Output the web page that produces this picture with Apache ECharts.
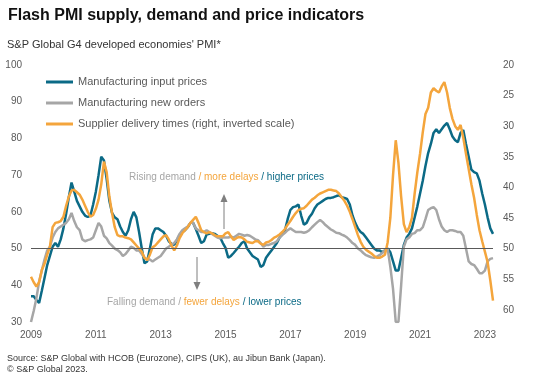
<!DOCTYPE html>
<html>
<head>
<meta charset="utf-8">
<script src="https://cdn.jsdelivr.net/npm/echarts@6/dist/echarts.min.js"></script>
<style>
html,body{margin:0;padding:0;background:#fff;}
#chart{width:539px;height:383px;}
</style>
</head>
<body>
<div id="chart"></div>
<script>
// ---- Data (monthly, Jan 2009 - Apr 2023) ----
const startYear = 2009;
const yearTicks = ['2009','2011','2013','2015','2017','2019','2021','2023'];
const seriesNames = ['Manufacturing input prices', 'Manufacturing new orders', 'Supplier delivery times (right, inverted scale)'];

const inputPrices = [
37,37,36,35.2,38.5,42,45.5,48,50.5,51.5,50.5,52.5,
55.5,59.5,64,68,65.5,63,61.5,60,59,58.6,59,62,
65.5,70,75,74,69,63,59.7,58.5,58,56,54.5,53.5,
55,58,60,58.5,54.5,50,46,46.5,50,53.8,55.5,55.5,
55,54.5,53.5,52,51.3,51,52.2,53.7,54.5,55,55.8,57,
57,55.3,53.5,51.5,52,53.8,54,54.2,54,53.5,53,51.5,
50.2,47.5,48,48.8,49.7,50.5,51.5,52,50,49,48,47.5,
47,45,45.5,47.5,48.5,49.5,50.5,51.5,53,54,55,58,
60.5,61.3,61.5,62,59,56.5,57,58.5,59.5,61,62,62.5,
63,63.5,63.8,63.8,64,64.3,64.5,64,63.8,63.5,62,59,
57,55.5,54.5,54,53,52,51,50,49.5,49.5,49,49.5,
50,49,46.5,44,44,47.5,51,53,54,55.5,58.5,61.5,
65,68.5,72.5,76,78.5,81.5,82.5,81.5,82.5,83.5,84.2,82.5,
80.5,79.5,79,81.5,82.3,78.5,75,71.5,70.8,70.5,68.5,65,
62,58.5,55.5,54
];

const newOrders = [
30,33,36.5,41,44,47,49.5,50.5,53,54.5,55.5,56,
56.5,57,58,59.7,57.5,55.8,55,52.5,52,52.3,52.5,53,
55,57,56,53.5,52.8,51.5,50.8,50,49.6,49,48,48.5,
49.5,50.5,50.2,49.5,49.5,48.5,47.5,47,47,46.5,47,47.5,
48,49,50,50.5,51,51.5,52.5,54,55,55.5,56,57,
57,55.5,55,54.5,54.5,55,54.5,54,53.5,53,52.8,53,
53,53,53.2,53,53.5,54,53.8,53.5,53.7,53.5,53,52.5,
52.3,51.5,50.5,51,51,51.3,51.5,52,53,53.7,54.3,55,
55.5,55,54.5,54.5,54.5,54.3,54.5,55,55.8,56.5,57.2,57.8,
57.2,56.4,55.8,55.2,54.8,54.3,54.2,53.8,53.5,53,52.3,51.5,
51,50,49.5,48.8,48.2,47.9,47.6,47.5,47.8,48.2,48.8,49.5,
50,45,39,30,30,40,50.5,52.5,53,54,54.2,55,
55,55.8,58,60.5,61,61.3,60.5,58,56,55,54.5,55,
55,54.8,54.5,54.5,53.5,50,46.5,45.8,45.5,44.5,43.3,43.3,
44,46.5,47.2,47.4
];

const deliveryTimes = [
54.6,55.5,56.2,55.5,53.5,52.5,51,49.7,46.5,45.8,45.7,45.5,
44.8,43,41.5,40.5,40.4,40.8,41.2,42,43,44,44.8,44.5,
43.5,42,39.5,35.8,37.5,41.5,44.2,46.5,47.8,48,48,48.2,
48.3,48.5,49,49.5,50,50.5,51.5,51.9,51,49.8,49.5,49,
48.5,48,47.8,48.5,49.5,50.3,49.5,48.3,47.5,47,46.5,45.8,
45.3,44.8,45.8,47,47.3,47.5,47.3,47.5,47.8,48,48,48,
47.5,47.3,48,48.6,48.3,48.1,48.2,48.5,48.9,49,49.1,48.8,
48.8,49.2,49.4,49,48.9,48.6,48.2,48,47.7,47.3,46.8,46.1,
45.5,44.8,44.2,43.7,43.5,43.4,43,42.5,42,41.7,41.3,41,
40.8,40.6,40.4,40.4,40.5,40.6,41,41.6,42.2,43,44,45.2,
46.5,47.8,48.9,49.7,50.2,50.5,50.8,51.2,51.5,51.5,51.3,51,
49,45,38,32.3,36,41.5,46,47.3,46.5,45,41,37.5,
34.5,31,28,27,24.5,23.8,24.2,24.5,23.5,22.8,24.5,27,
28.8,30,30.6,29.8,31.9,34.5,37,39.5,41.7,44.5,47,48.8,
50.5,52.2,55.2,58.5
];

const months = inputPrices.map((_, i) => {
  const y = startYear + Math.floor(i / 12);
  const m = (i % 12) + 1;
  return y + '-' + (m < 10 ? '0' + m : m);
});

// ---- Styles ----
const FONT = '"Liberation Sans", Arial, sans-serif';
const C_BLUE = '#0b6a86';
const C_GRAY = '#a6a6a6';
const C_ORANGE = '#f4a53c';
const C_AXIS = '#595959';

const chart = echarts.init(document.getElementById('chart'), null, {renderer: 'canvas'});

const option = {
  animation: false,
  backgroundColor: '#ffffff',
  textStyle: {fontFamily: FONT},
  title: [
    {text: 'Flash PMI supply, demand and price indicators', left: 8, top: 8, padding: 0,
     textStyle: {fontFamily: FONT, fontSize: 16, fontWeight: 'bold', color: '#111111'}},
    {text: "S&P Global G4 developed economies' PMI*", left: 7, top: 39, padding: 0,
     textStyle: {fontFamily: FONT, fontSize: 11, fontWeight: 'normal', color: '#333333'}},
    {text: 'Source: S&P Global with HCOB (Eurozone), CIPS (UK), au Jibun Bank (Japan).', left: 7, top: 354, padding: 0,
     textStyle: {fontFamily: FONT, fontSize: 9, fontWeight: 'normal', color: '#333333'}},
    {text: '\u00A9 S&P Global 2023.', left: 7, top: 365, padding: 0,
     textStyle: {fontFamily: FONT, fontSize: 9, fontWeight: 'normal', color: '#333333'}}
  ],
  legend: {
    orient: 'vertical', left: 46, top: 75, padding: 0,
    itemWidth: 27, itemHeight: 3, itemGap: 7, icon: 'rect',
    textStyle: {fontFamily: FONT, fontSize: 11, color: '#595959', lineHeight: 14},
    data: seriesNames
  },
  grid: {left: 31, right: 46, top: 65, bottom: 61, containLabel: false},
  xAxis: {
    type: 'category', data: months, boundaryGap: false,
    axisLine: {show: false}, axisTick: {show: false},
    axisLabel: {
      interval: (i) => i % 24 === 0,
      formatter: (v) => { const y = v.slice(0, 4); return yearTicks.indexOf(y) >= 0 ? y : ''; },
      color: C_AXIS, fontSize: 10, fontFamily: FONT, margin: 8
    },
    splitLine: {show: false}
  },
  yAxis: [
    {type: 'value', min: 30, max: 100, interval: 10,
     axisLine: {show: false}, axisTick: {show: false}, splitLine: {show: false},
     axisLabel: {color: C_AXIS, fontSize: 10, fontFamily: FONT, margin: 9}},
    {type: 'value', min: 20, max: 62, interval: 5, inverse: true,
     axisLine: {show: false}, axisTick: {show: false}, splitLine: {show: false},
     axisLabel: {color: C_AXIS, fontSize: 10, fontFamily: FONT, margin: 10,
       formatter: (v) => (v % 5 === 0 ? String(v) : '')}}
  ],
  series: [
    {name: seriesNames[0], type: 'line', data: inputPrices, yAxisIndex: 0,
     showSymbol: false, symbol: 'none', color: C_BLUE, lineStyle: {width: 2.5, color: C_BLUE},
     markLine: {silent: true, symbol: 'none', label: {show: false},
       lineStyle: {color: '#595959', width: 1, type: 'solid'}, data: [{yAxis: 50}]}},
    {name: seriesNames[1], type: 'line', data: newOrders, yAxisIndex: 0,
     showSymbol: false, symbol: 'none', color: C_GRAY, lineStyle: {width: 2.5, color: C_GRAY}},
    {name: seriesNames[2], type: 'line', data: deliveryTimes, yAxisIndex: 1,
     showSymbol: false, symbol: 'none', color: C_ORANGE, lineStyle: {width: 2.5, color: C_ORANGE}}
  ],
  graphic: [
    {type: 'text', left: 129, top: 172, silent: true,
     style: {text: '{g|Rising demand }{o|/ more delays }{b|/ higher prices}',
       rich: {g: {fill: C_GRAY, fontSize: 10, fontFamily: FONT},
              o: {fill: C_ORANGE, fontSize: 10, fontFamily: FONT},
              b: {fill: C_BLUE, fontSize: 10, fontFamily: FONT}}}},
    {type: 'text', left: 107, top: 297, silent: true,
     style: {text: '{g|Falling demand / }{o|fewer delays }{b|/ lower prices}',
       rich: {g: {fill: C_GRAY, fontSize: 10, fontFamily: FONT},
              o: {fill: C_ORANGE, fontSize: 10, fontFamily: FONT},
              b: {fill: C_BLUE, fontSize: 10, fontFamily: FONT}}}},
    {type: 'line', silent: true, shape: {x1: 224, y1: 202, x2: 224, y2: 229},
     style: {stroke: '#7f7f7f', lineWidth: 1}},
    {type: 'polygon', silent: true, shape: {points: [[224, 194], [220.5, 202], [227.5, 202]]},
     style: {fill: '#7f7f7f'}},
    {type: 'line', silent: true, shape: {x1: 197, y1: 257, x2: 197, y2: 283},
     style: {stroke: '#7f7f7f', lineWidth: 1}},
    {type: 'polygon', silent: true, shape: {points: [[197, 290], [193.5, 282], [200.5, 282]]},
     style: {fill: '#7f7f7f'}}
  ]
};
chart.setOption(option);
</script>
</body>
</html>
